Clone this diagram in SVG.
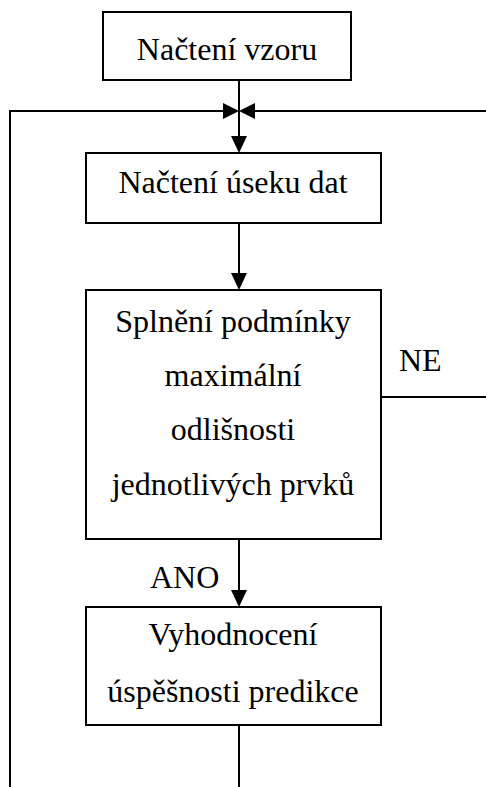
<svg xmlns="http://www.w3.org/2000/svg" width="486" height="787" viewBox="0 0 486 787">
<style>
.box{fill:#fff;stroke:#000;stroke-width:2}
.ln{fill:none;stroke:#000;stroke-width:2}
.ah{fill:#000}
text{font-family:"Liberation Serif","Times New Roman",serif;font-size:32px;fill:#000}
.c{text-anchor:middle}
</style>
<g id="connectors">
<line class="ln" x1="239" y1="80" x2="239" y2="140"/>
<polygon class="ah" points="231,136 247,136 239,153"/>
<polyline class="ln" points="10,787 10,111 225,111"/>
<polygon class="ah" points="223,103 223,119 239,111"/>
<polyline class="ln" points="381,397 486,397"/>
<line class="ln" x1="253" y1="111" x2="486" y2="111"/>
<polygon class="ah" points="255,103 255,119 239,111"/>
<line class="ln" x1="239" y1="223" x2="239" y2="276"/>
<polygon class="ah" points="231,273 247,273 239,290"/>
<line class="ln" x1="239" y1="539" x2="239" y2="594"/>
<polygon class="ah" points="231,590 247,590 239,607"/>
<line class="ln" x1="239" y1="725" x2="239" y2="787"/>
<text x="399" y="371">NE</text>
<text x="150" y="588">ANO</text>
</g>
<g id="n1">
<rect class="box" x="103" y="12" width="248" height="68"/>
<text class="c" x="227" y="60">Načtení vzoru</text>
</g>
<g id="n2">
<rect class="box" x="86" y="153" width="295" height="70"/>
<text class="c" x="233" y="193">Načtení úseku dat</text>
</g>
<g id="n3">
<rect class="box" x="86" y="290" width="295" height="249"/>
<text class="c" x="233" y="332">Splnění podmínky</text>
<text class="c" x="233" y="386">maximální</text>
<text class="c" x="233" y="440">odlišnosti</text>
<text class="c" x="233" y="495">jednotlivých prvků</text>
</g>
<g id="n4">
<rect class="box" x="86" y="607" width="295" height="118"/>
<text class="c" x="233" y="645">Vyhodnocení</text>
<text class="c" x="233" y="702">úspěšnosti predikce</text>
</g>
</svg>
